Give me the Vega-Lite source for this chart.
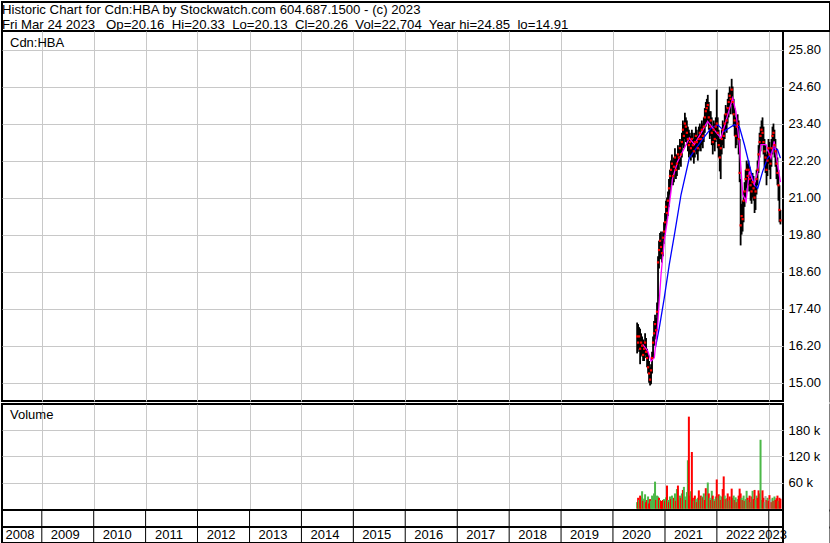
{
  "$schema": "https://vega.github.io/schema/vega-lite/v6.json",
  "padding": {"left": 1, "top": 1, "right": 0, "bottom": 0},
  "background": "white",
  "config": {
    "font": "Liberation Sans",
    "view": {"stroke": "black", "strokeWidth": 2},
    "axis": {"labelFont": "Liberation Sans", "labelFontSize": 13, "labelColor": "black", "gridColor": "#C8C8C8", "gridWidth": 1, "gridOpacity": 1, "domain": false, "ticks": false, "tickSize": 0, "labelOverlap": false, "labelBound": false, "labelFlush": false}
  },
  "datasets": {
    "one": [{"a": 0}],
    "px": [
      {"d":"2020-06-19","h":16.95,"l":15.95,"c":16.5,"v":15000,"k":"g"},
      {"d":"2020-06-26","h":16.9,"l":16.1,"c":16.3,"v":25000,"k":"r"},
      {"d":"2020-07-03","h":16.8,"l":16.0,"c":16.5,"v":20000,"k":"g"},
      {"d":"2020-07-10","h":16.75,"l":15.6,"c":16.1,"v":30000,"k":"r"},
      {"d":"2020-07-17","h":16.6,"l":15.9,"c":16.3,"v":26000,"k":"r"},
      {"d":"2020-07-24","h":16.5,"l":15.85,"c":16.2,"v":40000,"k":"g"},
      {"d":"2020-07-31","h":16.4,"l":15.7,"c":15.9,"v":18000,"k":"r"},
      {"d":"2020-08-07","h":16.3,"l":15.7,"c":16.1,"v":23000,"k":"g"},
      {"d":"2020-08-14","h":16.6,"l":15.9,"c":16.3,"v":33000,"k":"g"},
      {"d":"2020-08-21","h":16.45,"l":15.8,"c":16.0,"v":15000,"k":"r"},
      {"d":"2020-08-28","h":16.1,"l":15.5,"c":15.8,"v":20000,"k":"r"},
      {"d":"2020-09-04","h":15.95,"l":15.3,"c":15.5,"v":28000,"k":"g"},
      {"d":"2020-09-11","h":15.7,"l":15.0,"c":15.3,"v":12000,"k":"r"},
      {"d":"2020-09-18","h":15.5,"l":14.91,"c":15.1,"v":22000,"k":"r"},
      {"d":"2020-09-25","h":15.6,"l":14.95,"c":15.4,"v":18000,"k":"g"},
      {"d":"2020-10-02","h":16.0,"l":15.3,"c":15.8,"v":30000,"k":"g"},
      {"d":"2020-10-09","h":16.5,"l":15.8,"c":16.3,"v":25000,"k":"g"},
      {"d":"2020-10-16","h":17.0,"l":16.2,"c":16.6,"v":35000,"k":"g"},
      {"d":"2020-10-23","h":17.2,"l":16.5,"c":16.9,"v":62000,"k":"g"},
      {"d":"2020-10-30","h":17.1,"l":16.4,"c":16.7,"v":20000,"k":"r"},
      {"d":"2020-11-06","h":17.6,"l":16.7,"c":17.3,"v":30000,"k":"g"},
      {"d":"2020-11-13","h":19.1,"l":17.2,"c":18.9,"v":28000,"k":"g"},
      {"d":"2020-11-20","h":19.6,"l":18.7,"c":19.3,"v":25000,"k":"r"},
      {"d":"2020-11-27","h":19.85,"l":19.0,"c":19.6,"v":20000,"k":"g"},
      {"d":"2020-12-04","h":19.9,"l":19.1,"c":19.4,"v":18000,"k":"r"},
      {"d":"2020-12-11","h":19.6,"l":18.9,"c":19.2,"v":15000,"k":"r"},
      {"d":"2020-12-18","h":19.9,"l":19.1,"c":19.7,"v":20000,"k":"r"},
      {"d":"2020-12-25","h":20.2,"l":19.5,"c":19.9,"v":22000,"k":"g"},
      {"d":"2021-01-01","h":20.5,"l":19.8,"c":20.2,"v":18000,"k":"r"},
      {"d":"2021-01-08","h":20.9,"l":20.1,"c":20.7,"v":26000,"k":"g"},
      {"d":"2021-01-15","h":21.0,"l":20.3,"c":20.5,"v":53000,"k":"r"},
      {"d":"2021-01-22","h":21.2,"l":20.4,"c":20.9,"v":20000,"k":"g"},
      {"d":"2021-01-29","h":21.6,"l":20.7,"c":21.3,"v":15000,"k":"r"},
      {"d":"2021-02-05","h":21.9,"l":21.1,"c":21.7,"v":28000,"k":"g"},
      {"d":"2021-02-12","h":22.2,"l":21.4,"c":21.9,"v":22000,"k":"r"},
      {"d":"2021-02-19","h":22.4,"l":21.6,"c":22.1,"v":30000,"k":"g"},
      {"d":"2021-02-26","h":22.2,"l":21.4,"c":21.7,"v":20000,"k":"g"},
      {"d":"2021-03-05","h":22.3,"l":21.5,"c":22.0,"v":25000,"k":"r"},
      {"d":"2021-03-12","h":22.6,"l":21.8,"c":22.3,"v":35000,"k":"g"},
      {"d":"2021-03-19","h":22.4,"l":21.6,"c":21.9,"v":18000,"k":"r"},
      {"d":"2021-03-26","h":22.4,"l":21.7,"c":22.1,"v":45000,"k":"g"},
      {"d":"2021-04-02","h":22.7,"l":21.9,"c":22.4,"v":53000,"k":"r"},
      {"d":"2021-04-09","h":22.6,"l":21.9,"c":22.3,"v":20000,"k":"r"},
      {"d":"2021-04-16","h":22.9,"l":22.1,"c":22.6,"v":30000,"k":"g"},
      {"d":"2021-04-23","h":22.8,"l":22.0,"c":22.4,"v":25000,"k":"r"},
      {"d":"2021-04-30","h":23.1,"l":22.3,"c":22.8,"v":35000,"k":"g"},
      {"d":"2021-05-07","h":23.5,"l":22.7,"c":23.2,"v":43000,"k":"r"},
      {"d":"2021-05-14","h":23.4,"l":22.6,"c":23.0,"v":50000,"k":"g"},
      {"d":"2021-05-21","h":23.75,"l":22.9,"c":23.4,"v":28000,"k":"g"},
      {"d":"2021-05-28","h":23.6,"l":22.8,"c":23.3,"v":20000,"k":"r"},
      {"d":"2021-06-04","h":23.5,"l":22.7,"c":23.1,"v":38000,"k":"g"},
      {"d":"2021-06-11","h":23.3,"l":22.5,"c":22.9,"v":111000,"k":"g"},
      {"d":"2021-06-18","h":23.2,"l":22.3,"c":22.7,"v":211000,"k":"r"},
      {"d":"2021-06-25","h":23.1,"l":22.4,"c":22.8,"v":30000,"k":"r"},
      {"d":"2021-07-02","h":23.0,"l":22.2,"c":22.6,"v":40000,"k":"g"},
      {"d":"2021-07-09","h":23.2,"l":22.4,"c":22.9,"v":130000,"k":"r"},
      {"d":"2021-07-16","h":23.1,"l":22.3,"c":22.7,"v":25000,"k":"r"},
      {"d":"2021-07-23","h":22.9,"l":22.1,"c":22.5,"v":18000,"k":"g"},
      {"d":"2021-07-30","h":23.1,"l":22.3,"c":22.8,"v":30000,"k":"r"},
      {"d":"2021-08-06","h":23.3,"l":22.5,"c":23.0,"v":22000,"k":"g"},
      {"d":"2021-08-13","h":23.2,"l":22.4,"c":22.8,"v":15000,"k":"r"},
      {"d":"2021-08-20","h":23.0,"l":22.2,"c":22.6,"v":25000,"k":"g"},
      {"d":"2021-08-27","h":23.3,"l":22.5,"c":22.9,"v":42000,"k":"r"},
      {"d":"2021-09-03","h":23.4,"l":22.6,"c":23.1,"v":20000,"k":"g"},
      {"d":"2021-09-10","h":23.3,"l":22.5,"c":22.9,"v":30000,"k":"r"},
      {"d":"2021-09-17","h":23.5,"l":22.7,"c":23.2,"v":28000,"k":"g"},
      {"d":"2021-09-24","h":23.4,"l":22.6,"c":23.0,"v":26000,"k":"r"},
      {"d":"2021-10-01","h":23.6,"l":22.8,"c":23.3,"v":35000,"k":"g"},
      {"d":"2021-10-08","h":23.9,"l":23.1,"c":23.6,"v":20000,"k":"r"},
      {"d":"2021-10-15","h":24.1,"l":23.3,"c":23.8,"v":47000,"k":"r"},
      {"d":"2021-10-22","h":24.2,"l":23.4,"c":23.9,"v":30000,"k":"g"},
      {"d":"2021-10-29","h":24.33,"l":23.5,"c":24.0,"v":60000,"k":"g"},
      {"d":"2021-11-05","h":24.1,"l":23.2,"c":23.6,"v":35000,"k":"r"},
      {"d":"2021-11-12","h":23.8,"l":22.9,"c":23.3,"v":25000,"k":"g"},
      {"d":"2021-11-19","h":23.8,"l":23.0,"c":23.5,"v":20000,"k":"r"},
      {"d":"2021-11-26","h":23.6,"l":22.7,"c":23.1,"v":41000,"k":"g"},
      {"d":"2021-12-03","h":23.3,"l":22.4,"c":22.8,"v":30000,"k":"r"},
      {"d":"2021-12-10","h":23.5,"l":22.7,"c":23.2,"v":22000,"k":"g"},
      {"d":"2021-12-17","h":23.4,"l":22.5,"c":22.9,"v":18000,"k":"r"},
      {"d":"2021-12-24","h":23.6,"l":22.8,"c":23.3,"v":28000,"k":"g"},
      {"d":"2021-12-31","h":24.5,"l":22.9,"c":23.4,"v":67000,"k":"r"},
      {"d":"2022-01-07","h":23.6,"l":22.6,"c":23.1,"v":25000,"k":"g"},
      {"d":"2022-01-14","h":23.2,"l":22.3,"c":22.7,"v":33000,"k":"r"},
      {"d":"2022-01-21","h":22.9,"l":21.85,"c":22.3,"v":30000,"k":"g"},
      {"d":"2022-01-28","h":22.9,"l":21.6,"c":22.6,"v":20000,"k":"r"},
      {"d":"2022-02-04","h":23.2,"l":22.4,"c":22.9,"v":28000,"k":"g"},
      {"d":"2022-02-11","h":23.5,"l":22.7,"c":23.2,"v":45000,"k":"r"},
      {"d":"2022-02-18","h":23.4,"l":22.6,"c":23.0,"v":74000,"k":"r"},
      {"d":"2022-02-25","h":23.7,"l":22.9,"c":23.4,"v":30000,"k":"g"},
      {"d":"2022-03-04","h":24.0,"l":23.2,"c":23.7,"v":22000,"k":"r"},
      {"d":"2022-03-11","h":23.9,"l":23.1,"c":23.5,"v":24000,"k":"g"},
      {"d":"2022-03-18","h":24.2,"l":23.4,"c":23.9,"v":35000,"k":"r"},
      {"d":"2022-03-25","h":24.4,"l":23.6,"c":24.1,"v":18000,"k":"g"},
      {"d":"2022-04-01","h":24.6,"l":23.8,"c":24.3,"v":28000,"k":"r"},
      {"d":"2022-04-08","h":24.5,"l":23.7,"c":24.2,"v":20000,"k":"g"},
      {"d":"2022-04-15","h":24.85,"l":24.0,"c":24.5,"v":46000,"k":"r"},
      {"d":"2022-04-22","h":24.6,"l":23.7,"c":24.1,"v":25000,"k":"r"},
      {"d":"2022-04-29","h":24.2,"l":23.3,"c":23.7,"v":30000,"k":"g"},
      {"d":"2022-05-06","h":23.9,"l":23.0,"c":23.5,"v":20000,"k":"r"},
      {"d":"2022-05-13","h":23.6,"l":22.6,"c":23.0,"v":26000,"k":"g"},
      {"d":"2022-05-20","h":23.6,"l":22.7,"c":23.3,"v":15000,"k":"r"},
      {"d":"2022-05-27","h":23.7,"l":22.9,"c":23.4,"v":22000,"k":"g"},
      {"d":"2022-06-03","h":23.5,"l":22.4,"c":22.9,"v":30000,"k":"r"},
      {"d":"2022-06-10","h":22.9,"l":21.5,"c":21.8,"v":46000,"k":"r"},
      {"d":"2022-06-17","h":21.6,"l":19.45,"c":20.1,"v":35000,"k":"r"},
      {"d":"2022-06-24","h":20.8,"l":19.8,"c":20.4,"v":25000,"k":"g"},
      {"d":"2022-07-01","h":20.9,"l":19.9,"c":20.3,"v":20000,"k":"r"},
      {"d":"2022-07-08","h":21.2,"l":20.2,"c":20.9,"v":30000,"k":"g"},
      {"d":"2022-07-15","h":21.5,"l":20.7,"c":21.2,"v":18000,"k":"r"},
      {"d":"2022-07-22","h":21.9,"l":21.0,"c":21.6,"v":22000,"k":"g"},
      {"d":"2022-07-29","h":22.2,"l":21.3,"c":21.9,"v":41000,"k":"g"},
      {"d":"2022-08-05","h":22.1,"l":21.2,"c":21.7,"v":25000,"k":"r"},
      {"d":"2022-08-12","h":22.2,"l":21.4,"c":21.9,"v":20000,"k":"g"},
      {"d":"2022-08-19","h":22.0,"l":21.2,"c":21.6,"v":30000,"k":"r"},
      {"d":"2022-08-26","h":21.8,"l":20.9,"c":21.4,"v":15000,"k":"g"},
      {"d":"2022-09-02","h":21.6,"l":20.8,"c":21.2,"v":28000,"k":"r"},
      {"d":"2022-09-09","h":21.8,"l":21.0,"c":21.5,"v":41000,"k":"g"},
      {"d":"2022-09-16","h":21.7,"l":20.9,"c":21.3,"v":22000,"k":"r"},
      {"d":"2022-09-23","h":21.5,"l":20.5,"c":21.0,"v":43000,"k":"r"},
      {"d":"2022-09-30","h":21.5,"l":20.6,"c":21.2,"v":20000,"k":"g"},
      {"d":"2022-10-07","h":21.9,"l":21.1,"c":21.6,"v":30000,"k":"g"},
      {"d":"2022-10-14","h":22.2,"l":21.4,"c":21.9,"v":25000,"k":"r"},
      {"d":"2022-10-21","h":22.7,"l":21.8,"c":22.4,"v":42000,"k":"r"},
      {"d":"2022-10-28","h":23.1,"l":22.3,"c":22.8,"v":35000,"k":"r"},
      {"d":"2022-11-04","h":23.3,"l":22.5,"c":23.0,"v":158000,"k":"g"},
      {"d":"2022-11-11","h":23.5,"l":22.7,"c":23.2,"v":20000,"k":"g"},
      {"d":"2022-11-18","h":23.6,"l":22.7,"c":23.1,"v":42000,"k":"r"},
      {"d":"2022-11-25","h":23.3,"l":22.4,"c":22.8,"v":25000,"k":"r"},
      {"d":"2022-12-02","h":22.9,"l":22.0,"c":22.5,"v":15000,"k":"g"},
      {"d":"2022-12-09","h":22.7,"l":21.8,"c":22.3,"v":29000,"k":"n"},
      {"d":"2022-12-16","h":22.4,"l":21.4,"c":21.9,"v":20000,"k":"r"},
      {"d":"2022-12-23","h":22.5,"l":21.7,"c":22.2,"v":25000,"k":"g"},
      {"d":"2022-12-30","h":22.9,"l":22.1,"c":22.6,"v":18000,"k":"r"},
      {"d":"2023-01-06","h":22.8,"l":21.9,"c":22.4,"v":31000,"k":"r"},
      {"d":"2023-01-13","h":22.6,"l":21.6,"c":22.1,"v":22000,"k":"n"},
      {"d":"2023-01-20","h":22.9,"l":22.0,"c":22.6,"v":15000,"k":"r"},
      {"d":"2023-01-27","h":23.3,"l":22.4,"c":23.0,"v":25000,"k":"g"},
      {"d":"2023-02-03","h":23.4,"l":22.6,"c":23.1,"v":18000,"k":"r"},
      {"d":"2023-02-10","h":23.2,"l":22.3,"c":22.7,"v":28000,"k":"g"},
      {"d":"2023-02-17","h":22.9,"l":22.0,"c":22.5,"v":20000,"k":"r"},
      {"d":"2023-02-24","h":22.6,"l":21.6,"c":22.1,"v":24000,"k":"r"},
      {"d":"2023-03-03","h":22.3,"l":21.4,"c":21.8,"v":30000,"k":"r"},
      {"d":"2023-03-10","h":21.9,"l":20.9,"c":21.4,"v":18000,"k":"g"},
      {"d":"2023-03-17","h":21.4,"l":20.2,"c":20.6,"v":25000,"k":"r"},
      {"d":"2023-03-24","h":20.6,"l":20.13,"c":20.26,"v":22704,"k":"r"}
    ],
    "ma": [
      {"d":"2020-07-28","v":16.24,"s":"m"},
      {"d":"2020-09-01","v":16.03,"s":"m"},
      {"d":"2020-09-25","v":15.7,"s":"m"},
      {"d":"2020-10-18","v":15.81,"s":"m"},
      {"d":"2020-11-11","v":16.89,"s":"m"},
      {"d":"2020-12-04","v":18.5,"s":"m"},
      {"d":"2020-12-27","v":19.59,"s":"m"},
      {"d":"2021-01-20","v":20.34,"s":"m"},
      {"d":"2021-02-24","v":21.63,"s":"m"},
      {"d":"2021-03-31","v":22.17,"s":"m"},
      {"d":"2021-05-17","v":22.6,"s":"m"},
      {"d":"2021-06-21","v":22.93,"s":"m"},
      {"d":"2021-07-26","v":22.72,"s":"m"},
      {"d":"2021-09-11","v":23.09,"s":"m"},
      {"d":"2021-10-28","v":23.47,"s":"m"},
      {"d":"2021-12-03","v":23.25,"s":"m"},
      {"d":"2022-01-30","v":22.93,"s":"m"},
      {"d":"2022-03-18","v":23.68,"s":"m"},
      {"d":"2022-04-22","v":24.22,"s":"m"},
      {"d":"2022-05-15","v":23.79,"s":"m"},
      {"d":"2022-06-08","v":22.72,"s":"m"},
      {"d":"2022-07-02","v":21.1,"s":"m"},
      {"d":"2022-07-25","v":20.88,"s":"m"},
      {"d":"2022-08-17","v":21.85,"s":"m"},
      {"d":"2022-09-21","v":21.42,"s":"m"},
      {"d":"2022-10-15","v":21.85,"s":"m"},
      {"d":"2022-11-07","v":22.72,"s":"m"},
      {"d":"2022-12-12","v":22.72,"s":"m"},
      {"d":"2023-01-16","v":22.28,"s":"m"},
      {"d":"2023-02-08","v":22.82,"s":"m"},
      {"d":"2023-03-04","v":22.07,"s":"m"},
      {"d":"2023-03-24","v":21.5,"s":"m"},
      {"d":"2020-10-25","v":16.13,"s":"b"},
      {"d":"2020-11-22","v":16.78,"s":"b"},
      {"d":"2020-12-27","v":17.75,"s":"b"},
      {"d":"2021-01-31","v":18.83,"s":"b"},
      {"d":"2021-03-12","v":19.9,"s":"b"},
      {"d":"2021-04-24","v":21.1,"s":"b"},
      {"d":"2021-06-21","v":22.28,"s":"b"},
      {"d":"2021-09-11","v":22.82,"s":"b"},
      {"d":"2021-11-21","v":23.25,"s":"b"},
      {"d":"2022-01-07","v":23.36,"s":"b"},
      {"d":"2022-02-22","v":23.15,"s":"b"},
      {"d":"2022-05-03","v":23.36,"s":"b"},
      {"d":"2022-06-08","v":23.3,"s":"b"},
      {"d":"2022-07-13","v":22.72,"s":"b"},
      {"d":"2022-08-17","v":22.07,"s":"b"},
      {"d":"2022-09-21","v":21.42,"s":"b"},
      {"d":"2022-10-15","v":21.3,"s":"b"},
      {"d":"2022-11-19","v":21.85,"s":"b"},
      {"d":"2022-12-24","v":22.28,"s":"b"},
      {"d":"2023-02-08","v":22.6,"s":"b"},
      {"d":"2023-03-04","v":22.55,"s":"b"},
      {"d":"2023-03-24","v":22.28,"s":"b"}
    ],
    "yb": [
      {"d":"2009-01-01"},{"d":"2010-01-01"},{"d":"2011-01-01"},{"d":"2012-01-01"},{"d":"2013-01-01"},
      {"d":"2014-01-01"},{"d":"2015-01-01"},{"d":"2016-01-01"},{"d":"2017-01-01"},{"d":"2018-01-01"},
      {"d":"2019-01-01"},{"d":"2020-01-01"},{"d":"2021-01-01"},{"d":"2022-01-01"},{"d":"2023-01-01"}
    ],
    "yl": [
      {"t":"2008","d":"2008-08-01"},{"t":"2009","d":"2009-06-15"},{"t":"2010","d":"2010-06-15"},
      {"t":"2011","d":"2011-06-15"},{"t":"2012","d":"2012-06-15"},{"t":"2013","d":"2013-06-15"},
      {"t":"2014","d":"2014-06-15"},{"t":"2015","d":"2015-06-15"},{"t":"2016","d":"2016-06-15"},
      {"t":"2017","d":"2017-06-15"},{"t":"2018","d":"2018-06-15"},{"t":"2019","d":"2019-06-15"},
      {"t":"2020","d":"2020-06-15"},{"t":"2021","d":"2021-06-15"},{"t":"2022","d":"2022-06-15"},
      {"t":"2023","d":"2023-01-27"}
    ]
  },
  "spacing": 0,
  "bounds": "flush",
  "vconcat": [
    {
      "width": 828, "height": 29,
      "data": {"name": "one"},
      "mark": {"type": "text", "font": "Liberation Sans", "fontSize": 13.2, "color": "black", "align": "left", "baseline": "alphabetic", "dy": 12.3, "dx": 0, "lineHeight": 14.8},
      "encoding": {
        "x": {"datum": 0, "type": "quantitative", "scale": {"domain": [0, 1]}, "axis": null},
        "y": {"datum": 1, "type": "quantitative", "scale": {"domain": [0, 1]}, "axis": null},
        "text": {"value": ["Historic Chart for Cdn:HBA by Stockwatch.com 604.687.1500 - (c) 2023",
                           "Fri Mar 24 2023\u00a0\u00a0 Op=20.16\u00a0 Hi=20.33\u00a0 Lo=20.13\u00a0 Cl=20.26\u00a0 Vol=22,704\u00a0 Year hi=24.85\u00a0 lo=14.91"]}
      }
    },
    {
      "spacing": 3,
      "bounds": "flush",
      "vconcat": [
        {
          "width": 781, "height": 370,
          "layer": [
            {
              "data": {"name": "px"},
              "mark": {"type": "rule", "color": "black", "strokeWidth": 1.8},
              "encoding": {
                "x": {"field": "d", "type": "temporal", "title": null,
                      "scale": {"type": "utc", "domain": [{"year": 2008, "month": 3, "date": 27, "utc": true}, {"year": 2023, "month": 4, "date": 11, "utc": true}]},
                      "axis": {"labels": false, "ticks": false, "domain": false, "grid": true,
                               "values": [{"year":2009,"month":1,"date":1,"utc":true},{"year":2010,"month":1,"date":1,"utc":true},{"year":2011,"month":1,"date":1,"utc":true},{"year":2012,"month":1,"date":1,"utc":true},{"year":2013,"month":1,"date":1,"utc":true},{"year":2014,"month":1,"date":1,"utc":true},{"year":2015,"month":1,"date":1,"utc":true},{"year":2016,"month":1,"date":1,"utc":true},{"year":2017,"month":1,"date":1,"utc":true},{"year":2018,"month":1,"date":1,"utc":true},{"year":2019,"month":1,"date":1,"utc":true},{"year":2020,"month":1,"date":1,"utc":true},{"year":2021,"month":1,"date":1,"utc":true},{"year":2022,"month":1,"date":1,"utc":true},{"year":2023,"month":1,"date":1,"utc":true}]}},
                "y": {"field": "l", "type": "quantitative", "title": null,
                      "scale": {"domain": [14.407, 26.4], "nice": false, "zero": false},
                      "axis": {"orient": "right", "grid": true, "format": ".2f", "offset": 47, "labelPadding": -42, "labelAlign": "left",
                               "domain": true, "domainColor": "black", "domainWidth": 2, "domainCap": "square",
                               "values": [15, 15.6, 16.2, 16.8, 17.4, 18, 18.6, 19.2, 19.8, 20.4, 21, 21.6, 22.2, 22.8, 23.4, 24, 24.6, 25.2, 25.8]}},
                "y2": {"field": "h"}
              }
            },
            {
              "data": {"name": "ma"},
              "transform": [{"filter": "datum.s == 'b'"}],
              "mark": {"type": "line", "color": "#0000FF", "strokeWidth": 1.3},
              "encoding": {
                "x": {"field": "d", "type": "temporal"},
                "y": {"field": "v", "type": "quantitative"}
              }
            },
            {
              "data": {"name": "ma"},
              "transform": [{"filter": "datum.s == 'm'"}],
              "mark": {"type": "line", "color": "#FF00FF", "strokeWidth": 1.3},
              "encoding": {
                "x": {"field": "d", "type": "temporal"},
                "y": {"field": "v", "type": "quantitative"}
              }
            },
            {
              "data": {"name": "px"},
              "mark": {"type": "square", "color": "#FF0000", "size": 5, "filled": true, "opacity": 1},
              "encoding": {
                "x": {"field": "d", "type": "temporal"},
                "y": {"field": "c", "type": "quantitative"}
              }
            },
            {
              "data": {"name": "one"},
              "mark": {"type": "text", "fontSize": 13, "color": "black", "align": "left", "baseline": "alphabetic", "dx": 8, "dy": 16},
              "encoding": {
                "x": {"datum": {"year": 2008, "month": 3, "date": 27, "utc": true}, "type": "temporal"},
                "y": {"datum": 26.4, "type": "quantitative"},
                "text": {"value": "Cdn:HBA"}
              }
            }
          ]
        },
        {
          "spacing": 0,
          "bounds": "flush",
          "vconcat": [
            {
              "width": 781, "height": 106,
              "layer": [
                {
                  "data": {"name": "px"},
                  "mark": {"type": "rule", "strokeWidth": 2},
                  "encoding": {
                    "x": {"field": "d", "type": "temporal", "title": null,
                          "scale": {"type": "utc", "domain": [{"year": 2008, "month": 3, "date": 27, "utc": true}, {"year": 2023, "month": 4, "date": 11, "utc": true}]},
                          "axis": {"labels": false, "ticks": false, "domain": false, "grid": true,
                                   "values": [{"year":2009,"month":1,"date":1,"utc":true},{"year":2010,"month":1,"date":1,"utc":true},{"year":2011,"month":1,"date":1,"utc":true},{"year":2012,"month":1,"date":1,"utc":true},{"year":2013,"month":1,"date":1,"utc":true},{"year":2014,"month":1,"date":1,"utc":true},{"year":2015,"month":1,"date":1,"utc":true},{"year":2016,"month":1,"date":1,"utc":true},{"year":2017,"month":1,"date":1,"utc":true},{"year":2018,"month":1,"date":1,"utc":true},{"year":2019,"month":1,"date":1,"utc":true},{"year":2020,"month":1,"date":1,"utc":true},{"year":2021,"month":1,"date":1,"utc":true},{"year":2022,"month":1,"date":1,"utc":true},{"year":2023,"month":1,"date":1,"utc":true}]}},
                    "y": {"field": "v", "type": "quantitative", "title": null,
                          "scale": {"domain": [-3000, 240000], "nice": false, "zero": false},
                          "axis": {"orient": "right", "grid": true, "offset": 47, "labelPadding": -42, "labelAlign": "left",
                                   "domain": true, "domainColor": "black", "domainWidth": 2, "domainCap": "square",
                                   "values": [60000, 120000, 180000],
                                   "labelExpr": "(datum.value / 1000) + ' k'"}},
                    "y2": {"datum": 0},
                    "color": {"condition": [{"test": "datum.k == 'g'", "value": "#4CB848"}, {"test": "datum.k == 'n'", "value": "#A8A8A8"}], "value": "#FF0000"}
                  }
                },
                {
                  "data": {"name": "one"},
                  "mark": {"type": "text", "fontSize": 13, "color": "black", "align": "left", "baseline": "alphabetic", "dx": 8, "dy": 15.3},
                  "encoding": {
                    "x": {"datum": {"year": 2008, "month": 3, "date": 27, "utc": true}, "type": "temporal"},
                    "y": {"datum": 240000, "type": "quantitative"},
                    "text": {"value": "Volume"}
                  }
                }
              ]
            },
            {
              "width": 781, "height": 17,
              "layer": [
                {
                  "data": {"name": "yb"},
                  "mark": {"type": "rule", "color": "black", "strokeWidth": 1},
                  "encoding": {
                    "x": {"field": "d", "type": "temporal", "axis": null,
                          "scale": {"type": "utc", "domain": [{"year": 2008, "month": 3, "date": 27, "utc": true}, {"year": 2023, "month": 4, "date": 11, "utc": true}]}}
                  }
                },
                {
                  "data": {"name": "one"},
                  "mark": {"type": "point", "opacity": 0},
                  "encoding": {
                    "y": {"datum": 0, "type": "quantitative", "scale": {"domain": [0, 1]},
                          "axis": {"orient": "right", "offset": 47, "labels": false, "grid": false, "title": null,
                                   "domain": true, "domainColor": "black", "domainWidth": 2, "domainCap": "square"}}
                  }
                }
              ]
            },
            {
              "width": 781, "height": 16,
              "layer": [
                {
                  "data": {"name": "yb"},
                  "mark": {"type": "rule", "color": "black", "strokeWidth": 1},
                  "encoding": {
                    "x": {"field": "d", "type": "temporal", "axis": null,
                          "scale": {"type": "utc", "domain": [{"year": 2008, "month": 3, "date": 27, "utc": true}, {"year": 2023, "month": 4, "date": 11, "utc": true}]}}
                  }
                },
                {
                  "data": {"name": "yl"},
                  "mark": {"type": "text", "fontSize": 13, "color": "black", "baseline": "middle", "font": "Liberation Sans"},
                  "encoding": {
                    "x": {"field": "d", "type": "temporal"},
                    "text": {"field": "t"}
                  }
                },
                {
                  "data": {"name": "one"},
                  "mark": {"type": "point", "opacity": 0},
                  "encoding": {
                    "y": {"datum": 0, "type": "quantitative", "scale": {"domain": [0, 1]},
                          "axis": {"orient": "right", "offset": 47, "labels": false, "grid": false, "title": null,
                                   "domain": true, "domainColor": "black", "domainWidth": 2, "domainCap": "square"}}
                  }
                }
              ]
            }
          ]
        }
      ]
    }
  ]
}
